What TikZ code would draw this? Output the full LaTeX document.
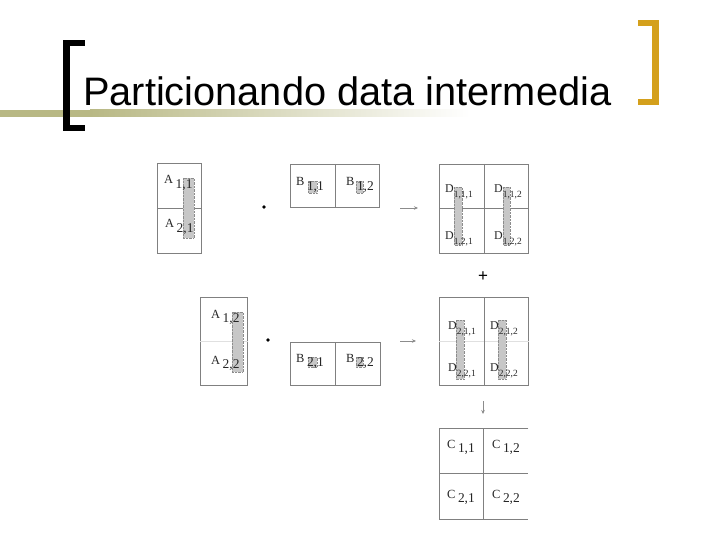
\documentclass[tikz,border=0pt]{standalone}
\usepackage{fontspec}
\setmainfont{Liberation Serif}
\newfontfamily\titlefont{Liberation Sans}
\usetikzlibrary{arrows.meta}
\definecolor{tline}{RGB}{184,184,132}
\definecolor{goldbr}{RGB}{212,160,28}
\newcommand{\lab}[2]{{\fontsize{12.5}{13}\selectfont #1}\hspace{2.5bp}\raisebox{-4.5bp}{\fontsize{13.5}{14}\selectfont #2}}
\newcommand{\labd}[2]{{\fontsize{12}{13}\selectfont #1}\raisebox{-5bp}{\fontsize{9.5}{10}\selectfont #2}}
\begin{document}
\begin{tikzpicture}[x=1bp,y=-1bp,
  box/.style={draw=black!50,line width=0.7bp,inner sep=0pt,anchor=north west},
  noborder/.style={inner sep=0pt,anchor=north west},
  ln/.style={draw=black!50,line width=0.7bp},
  faint/.style={draw=black!12,line width=0.5bp},
  strip/.style={fill=black!22,draw=black!45,densely dotted,line width=0.4bp},
  lbl/.style={anchor=base west,inner sep=0pt,text=black!85},
  arr/.style={-{Stealth[length=4bp,width=3.5bp]},draw=black!45,line width=0.6bp},
  dotn/.style={circle,fill=black,inner sep=0pt,minimum size=3.8bp}]
\useasboundingbox (0,0) rectangle (720,540);
\fill[white] (0,0) rectangle (720,540);
% title decoration
\fill[tline] (0,110) rectangle (90,117);
\shade[left color=tline,right color=white] (90,110) rectangle (470,117);
\fill[black] (63,40) rectangle (70,131);
\fill[black] (63,40) rectangle (85,46);
\fill[black] (63,125) rectangle (85,131);
\fill[goldbr] (652,20) rectangle (659,105);
\fill[goldbr] (638,20) rectangle (659,26);
\fill[goldbr] (638,99) rectangle (659,105);
\node[anchor=base west,inner sep=0pt] (title) at (83,106) {\titlefont\fontsize{39.9}{44}\selectfont Particionando data intermedia};
% boxes
\node[box,minimum width=44bp,minimum height=90bp] (A1) at (157,163) {};
\node[box,minimum width=89bp,minimum height=43bp] (B1) at (290,164) {};
\node[box,minimum width=89bp,minimum height=89bp] (D1) at (439,164) {};
\node[box,minimum width=47bp,minimum height=88bp] (A2) at (200,297) {};
\node[box,minimum width=90bp,minimum height=43bp] (B2) at (290,342) {};
\node[box,minimum width=89bp,minimum height=88bp] (D2) at (439,297) {};
\node[noborder,minimum width=89bp,minimum height=91bp] (C) at (439,428) {};
\draw[ln] (C.north east) -- (C.north west) -- (C.south west) -- (C.south east);
% inner lines
\draw[ln] (A1.west) -- (A1.east);
\draw[ln] (B1.north) -- (B1.south);
\draw[ln] (D1.west) -- (D1.east);
\draw[ln] (D1.north) -- (D1.south);
\draw[faint] (A2.west) -- (A2.east);
\draw[ln] (B2.north) -- (B2.south);
\draw[faint] (D2.west) -- (D2.east);
\draw[ln] (D2.north) -- (D2.south);
\draw[ln] (C.west) -- (C.east);
\draw[ln] (C.north) -- (C.south);
% highlight strips
\draw[strip] (183,178) rectangle (194,238);
\draw[strip] (308,181) rectangle (317,193);
\draw[strip] (356,181) rectangle (363,193);
\draw[strip] (454,187) rectangle (462,245);
\draw[strip] (503,187) rectangle (510,245);
\draw[strip] (232,312) rectangle (243,372);
\draw[strip] (308,357) rectangle (317,367);
\draw[strip] (356,357) rectangle (363,367);
\draw[strip] (456,320) rectangle (464,379);
\draw[strip] (498,320) rectangle (506,379);
% labels
\node[lbl] (a11) at (164,184) {\lab{A}{1,1}};
\node[lbl] (a21) at (165,228) {\lab{A}{2,1}};
\node[lbl] (b11) at (296,186) {\lab{B}{1,1}};
\node[lbl] (b12) at (346,186) {\lab{B}{1,2}};
\node[lbl] (d111) at (445,193) {\labd{D}{1,1,1}};
\node[lbl] (d112) at (494,193) {\labd{D}{1,1,2}};
\node[lbl] (d121) at (445,240) {\labd{D}{1,2,1}};
\node[lbl] (d122) at (494,240) {\labd{D}{1,2,2}};
\node[lbl] (a12) at (211,318) {\lab{A}{1,2}};
\node[lbl] (a22) at (211,364) {\lab{A}{2,2}};
\node[lbl] (b21) at (296,362) {\lab{B}{2,1}};
\node[lbl] (b22) at (346,362) {\lab{B}{2,2}};
\node[lbl] (d211) at (448,329) {\labd{D}{2,1,1}};
\node[lbl] (d212) at (490,329) {\labd{D}{2,1,2}};
\node[lbl] (d221) at (448,371) {\labd{D}{2,2,1}};
\node[lbl] (d222) at (490,371) {\labd{D}{2,2,2}};
\node[lbl] (c11) at (447,448) {\lab{C}{1,1}};
\node[lbl] (c12) at (492,448) {\lab{C}{1,2}};
\node[lbl] (c21) at (447,498) {\lab{C}{2,1}};
\node[lbl] (c22) at (492,498) {\lab{C}{2,2}};
% operators
\node[dotn] (dot1) at (264,207) {};
\node[dotn] (dot2) at (268,340) {};
\node[inner sep=0pt] (plus) at (483,277) {\titlefont\fontsize{17}{17}\selectfont +};
% arrows
\coordinate (ar1s) at (400,208);
\coordinate (ar1e) at (418,208);
\coordinate (ar2s) at (400,341);
\coordinate (ar2e) at (416,341);
\coordinate (ar3s) at (483,401);
\coordinate (ar3e) at (483,414);
\draw[arr] (ar1s) -- (ar1e);
\draw[arr] (ar2s) -- (ar2e);
\draw[arr] (ar3s) -- (ar3e);
\end{tikzpicture}
\end{document}
